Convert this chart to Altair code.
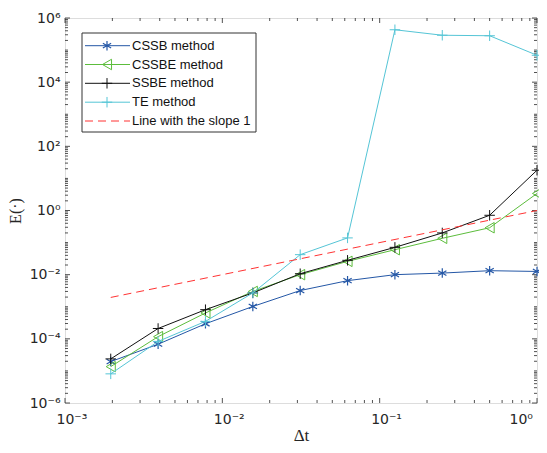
import math
import altair as alt
import pandas as pd

dt = [2**-9, 2**-8, 2**-7, 2**-6, 2**-5, 2**-4, 2**-3, 2**-2, 2**-1, 1.0]
cssb = [1.95e-5, 6.8e-5, 2.95e-4, 1.02e-3, 3.2e-3, 6.5e-3, 1.0e-2, 1.12e-2, 1.33e-2, 1.26e-2]
cssbe = [1.36e-5, 1.17e-4, 6.4e-4, 3.0e-3, 1.0e-2, 2.6e-2, 6.0e-2, 0.136, 0.29, 3.4]
ssbe = [2.37e-5, 2.1e-4, 8.1e-4, 2.7e-3, 1.07e-2, 2.8e-2, 7.1e-2, 0.2, 0.71, 18.0]
te = [8.1e-6, 8.3e-5, 3.5e-4, 2.7e-3, 4.2e-2, 0.14, 4.3e5, 2.9e5, 2.8e5, 6.9e4]
slope1 = [2**-9, 1.0]
slope1_y = [2**-9, 1.0]

names = ["CSSB method", "CSSBE method", "SSBE method", "TE method", "Line with the slope 1"]
colors = ["#2457A6", "#5CBD3C", "#111111", "#55C5D6", "#FF3333"]

x_major = [1e-3, 1e-2, 1e-1, 1.0]
x_labels = ["10⁻³", "10⁻²", "10⁻¹", "10⁰"]
y_major = [1e-6, 1e-4, 1e-2, 1.0, 1e2, 1e4, 1e6]
y_labels = ["10⁻⁶", "10⁻⁴", "10⁻²", "10⁰", "10²", "10⁴", "10⁶"]

W, H = 472, 385
xs = alt.Scale(type="log", domain=[1e-3, 1.0], nice=False, zero=False, padding=0)
ys = alt.Scale(type="log", domain=[1e-6, 1e6], nice=False, zero=False, padding=0)

def lab_expr(vals, labs):
    e = "''"
    for v, l in zip(vals, labs):
        e = f"abs(log(datum.value)/LN10 - ({math.log10(v):.0f})) < 0.01 ? '{l}' : ({e})"
    return e

x_axis = alt.Axis(values=x_major, labelExpr=lab_expr(x_major, x_labels), ticks=False,
                  domain=False, grid=False, labelPadding=9, labelFontSize=14, labelFlush=False,
                  labelOverlap=False, labelAlign="left",
                  labelOffset={"condition": {"test": "datum.value >= 0.5", "value": -28}, "value": -9},
                  labelFont="DejaVu Sans", labelColor="#262626",
                  titleFont="Liberation Serif", titleFontSize=17, titleFontWeight="normal",
                  titleColor="#262626", titlePadding=1)
y_axis = alt.Axis(values=y_major, labelExpr=lab_expr(y_major, y_labels), ticks=False,
                  domain=False, grid=False, labelPadding=5, labelFontSize=14, labelFlush=False,
                  labelOverlap=False,
                  labelFont="DejaVu Sans", labelColor="#262626",
                  titleFont="Liberation Serif", titleFontSize=16, titleFontWeight="normal",
                  titleColor="#262626", titlePadding=6)

def X(f):
    return alt.X(f, scale=xs, axis=x_axis, title="Δt")

def Y(f):
    return alt.Y(f, scale=ys, axis=y_axis, title="E(·)")

x_minor = [m * 10**d for d in (-3, -2, -1) for m in range(2, 10)]
y_minor = [m * 10.0**d for d in range(-6, 6) for m in range(2, 10)] + [10.0**d for d in (-5, -3, -1, 1, 3, 5)]

layers = []

def xticks(vals, L):
    d = pd.DataFrame({"x": vals})
    b = alt.Chart(d).mark_rule(color="#262626", strokeWidth=0.8).encode(
        x=X("x:Q"), y=alt.value(H), y2=alt.value(H - L))
    t = alt.Chart(d).mark_rule(color="#262626", strokeWidth=0.8).encode(
        x=X("x:Q"), y=alt.value(0), y2=alt.value(L))
    return [b, t]

def yticks(vals, L):
    d = pd.DataFrame({"y": vals})
    l = alt.Chart(d).mark_rule(color="#262626", strokeWidth=0.8).encode(
        y=Y("y:Q"), x=alt.value(0), x2=alt.value(L))
    r = alt.Chart(d).mark_rule(color="#262626", strokeWidth=0.8).encode(
        y=Y("y:Q"), x=alt.value(W), x2=alt.value(W - L))
    return [l, r]

layers += xticks(x_major, 5) + xticks(x_minor, 3) + yticks(y_major, 5) + yticks(y_minor, 3)

asterisk = "M0,-1L0,1M-0.87,-0.5L0.87,0.5M-0.87,0.5L0.87,-0.5"
plus = "M-1,0L1,0M0,-1L0,1"
shapes = [(asterisk, 90), ("triangle-left", 110), (plus, 110), (plus, 110)]

series = [cssb, cssbe, ssbe, te]
for i, vals in enumerate(series):
    d = pd.DataFrame({"x": dt, "y": vals})
    layers.append(alt.Chart(d).mark_line(color=colors[i], strokeWidth=1).encode(x=X("x:Q"), y=Y("y:Q")))
    shp, sz = shapes[i]
    layers.append(alt.Chart(d).mark_point(shape=shp, size=sz, filled=False, color=colors[i],
                                          strokeWidth=1.2 if i == 0 else 1, opacity=1).encode(
        x=X("x:Q"), y=Y("y:Q")))

dref = pd.DataFrame({"x": slope1, "y": slope1_y})
layers.append(alt.Chart(dref).mark_line(color=colors[4], strokeWidth=1, strokeDash=[8, 5]).encode(
    x=X("x:Q"), y=Y("y:Q")))

# legend
one = pd.DataFrame({"a": [0]})
layers.append(alt.Chart(one).mark_rect(fill="white", stroke="#333333", strokeWidth=1).encode(
    x=alt.value(17), x2=alt.value(191), y=alt.value(15), y2=alt.value(114)))
row_y = [27.7, 46.5, 65.3, 84.2, 103]
for i, name in enumerate(names):
    yy = row_y[i]
    if i == 4:
        layers.append(alt.Chart(one).mark_rule(color=colors[i], strokeWidth=1, strokeDash=[8, 5]).encode(
            x=alt.value(20), x2=alt.value(65), y=alt.value(yy)))
    else:
        layers.append(alt.Chart(one).mark_rule(color=colors[i], strokeWidth=1).encode(
            x=alt.value(20), x2=alt.value(65), y=alt.value(yy)))
        shp, sz = shapes[i]
        layers.append(alt.Chart(one).mark_point(
            shape=shp, size=sz, filled=False, color=colors[i], opacity=1,
            strokeWidth=1.2 if i == 0 else 1).encode(x=alt.value(42), y=alt.value(yy)))
    layers.append(alt.Chart(one).mark_text(
        align="left", baseline="middle", fontSize=13, font="Liberation Sans", color="#111111").encode(
        x=alt.value(67), y=alt.value(yy), text=alt.value(name)))

chart = alt.layer(*layers).properties(
    width=W, height=H,
    autosize=alt.AutoSizeParams(type="none"),
    padding={"left": 57, "top": 10, "right": 2, "bottom": 42},
).configure_view(stroke="#262626", strokeWidth=1).configure(background="white")

chart.save("out.html", embed_options={"renderer": "svg", "actions": False})
